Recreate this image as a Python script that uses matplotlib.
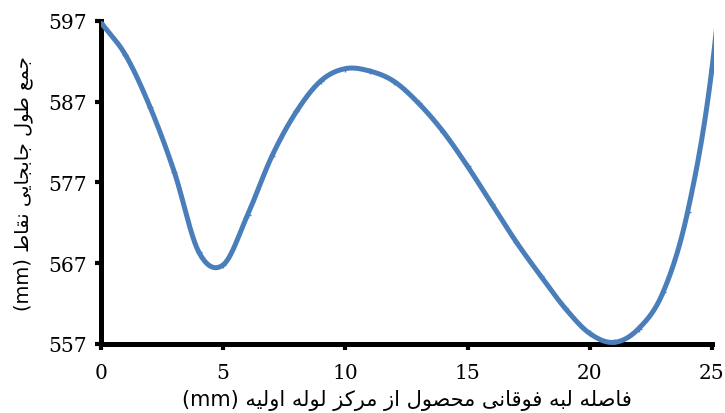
import numpy as np
import matplotlib
matplotlib.use("Agg")
import matplotlib.pyplot as plt
from matplotlib.patches import Rectangle

# ---------------- data ----------------
x_vals = [0, 1, 2, 3, 4, 5, 6, 7, 8, 9, 10, 11, 12, 13, 14, 15, 16, 17, 18, 19, 20, 21, 22, 23, 24, 25, 26]
y_vals = [596.8, 592.8, 586.4, 578.3, 568.4, 566.8, 573.0, 580.3, 585.8, 589.6, 591.1, 590.8,
          589.5, 586.8, 583.3, 579.0, 574.3, 569.6, 565.4, 561.4, 558.3, 557.2, 558.9, 563.4,
          573.3, 591.1, 622.0]
x_ticks = [0, 5, 10, 15, 20, 25]
y_ticks = [557, 567, 577, 587, 597]
x_label_fa = "فاصله لبه فوقانی محصول از مرکز لوله اولیه"
y_label_fa = "جمع طول جابجایی نقاط"
unit = "(mm)"

# ------------- simple Arabic/Persian shaping -------------
FORMS = {
    '\u0627': ('\uFE8D', '\uFE8E', None, None),
    '\u0628': ('\uFE8F', '\uFE90', '\uFE91', '\uFE92'),
    '\u062A': ('\uFE95', '\uFE96', '\uFE97', '\uFE98'),
    '\u062C': ('\uFE9D', '\uFE9E', '\uFE9F', '\uFEA0'),
    '\u062D': ('\uFEA1', '\uFEA2', '\uFEA3', '\uFEA4'),
    '\u062F': ('\uFEA9', '\uFEAA', None, None),
    '\u0631': ('\uFEAD', '\uFEAE', None, None),
    '\u0632': ('\uFEAF', '\uFEB0', None, None),
    '\u0635': ('\uFEB9', '\uFEBA', '\uFEBB', '\uFEBC'),
    '\u0637': ('\uFEC1', '\uFEC2', '\uFEC3', '\uFEC4'),
    '\u0639': ('\uFEC9', '\uFECA', '\uFECB', '\uFECC'),
    '\u0641': ('\uFED1', '\uFED2', '\uFED3', '\uFED4'),
    '\u0642': ('\uFED5', '\uFED6', '\uFED7', '\uFED8'),
    '\u0644': ('\uFEDD', '\uFEDE', '\uFEDF', '\uFEE0'),
    '\u0645': ('\uFEE1', '\uFEE2', '\uFEE3', '\uFEE4'),
    '\u0646': ('\uFEE5', '\uFEE6', '\uFEE7', '\uFEE8'),
    '\u0647': ('\uFEE9', '\uFEEA', '\uFEEB', '\uFEEC'),
    '\u0648': ('\uFEED', '\uFEEE', None, None),
    '\u06CC': ('\uFBFC', '\uFBFD', '\uFBFE', '\uFBFF'),
    '\u06A9': ('\uFB8E', '\uFB8F', '\uFB90', '\uFB91'),
}


def shape(text):
    out = []
    n = len(text)
    for i, ch in enumerate(text):
        if ch not in FORMS:
            out.append(ch)
            continue
        prev = text[i - 1] if i > 0 else ''
        nxt = text[i + 1] if i < n - 1 else ''
        join_prev = prev in FORMS and FORMS[prev][2] is not None
        join_next = nxt in FORMS and FORMS[ch][2] is not None
        iso, fin, ini, med = FORMS[ch]
        if join_prev and join_next:
            out.append(med)
        elif join_prev:
            out.append(fin)
        elif join_next:
            out.append(ini)
        else:
            out.append(iso)
    return ''.join(out)[::-1]


# ------------- smoothing (Catmull-Rom, like a smoothed line) -------------
def smooth(xs, ys, n=30):
    xs = np.asarray(xs, float)
    ys = np.asarray(ys, float)
    P = np.column_stack([xs, ys])
    P = np.vstack([2 * P[0] - P[1], P, 2 * P[-1] - P[-2]])
    px, py = [], []
    t = np.linspace(0, 1, n, endpoint=False)
    for i in range(1, len(P) - 2):
        p0, p1, p2, p3 = P[i - 1], P[i], P[i + 1], P[i + 2]
        t2, t3 = t * t, t * t * t
        pts = 0.5 * ((2 * p1)[None, :] + (-p0 + p2)[None, :] * t[:, None]
                     + (2 * p0 - 5 * p1 + 4 * p2 - p3)[None, :] * t2[:, None]
                     + (-p0 + 3 * p1 - 3 * p2 + p3)[None, :] * t3[:, None])
        px.extend(pts[:, 0])
        py.extend(pts[:, 1])
    px.append(xs[-1])
    py.append(ys[-1])
    return np.array(px), np.array(py)


color = "#4a7ebb"
serif = ["DejaVu Serif"]

fig = plt.figure(figsize=(7.25, 4.14), dpi=100)
ax = fig.add_axes([0.1393, 0.1667, 0.982 - 0.1393, 0.9469 - 0.1667])

sx, sy = smooth(x_vals, y_vals)
line, = ax.plot(sx, sy, color=color, lw=3.6, solid_capstyle="butt", zorder=3)
ax.plot(x_vals, y_vals, ls="none", marker="+", ms=4, mew=1, color=color, zorder=4)

# clip the curve slightly beyond the right edge of the plot area (like the original)
clip_rect = Rectangle((0, -0.05), 1.004, 1.1, transform=ax.transAxes, visible=False)
ax.add_patch(clip_rect)
line.set_clip_path(clip_rect)

ax.set_xlim(0, 25)
ax.set_ylim(557, 597)
ax.set_xticks(x_ticks)
ax.set_yticks(y_ticks)
ax.set_xticklabels([str(v) for v in x_ticks], fontfamily=serif, fontsize=14.5)
ax.set_yticklabels([str(v) for v in y_ticks], fontfamily=serif, fontsize=14.5)

for s in ["top", "right"]:
    ax.spines[s].set_visible(False)
for s in ["left", "bottom"]:
    ax.spines[s].set_linewidth(3.6)
    ax.spines[s].set_color("black")
ax.tick_params(direction="out", length=4, width=3, color="black")
ax.tick_params(axis="x", pad=10)
ax.tick_params(axis="y", pad=6)

ax.set_xlabel(unit + " " + shape(x_label_fa), fontfamily=["DejaVu Sans"], fontsize=15, labelpad=5)
ax.set_ylabel(unit + " " + shape(y_label_fa), fontfamily=["DejaVu Sans"], fontsize=14, labelpad=11)

fig.savefig("out.png", dpi=100)
